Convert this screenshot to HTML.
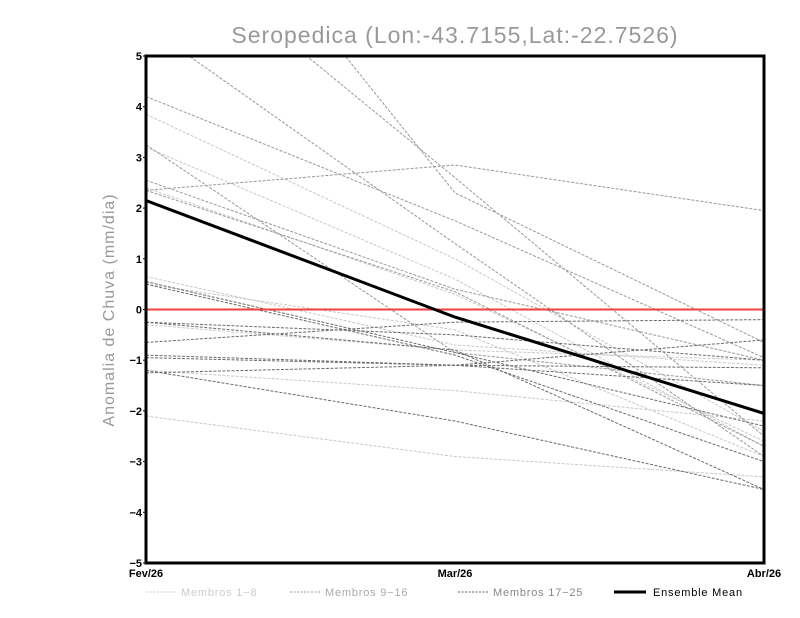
<!DOCTYPE html>
<html><head><meta charset="utf-8"><style>
html,body{margin:0;padding:0;background:#fff;}
svg{display:block;font-family:"Liberation Sans",sans-serif;}
</style></head><body>
<svg id="chart" width="800" height="618" viewBox="0 0 800 618">
<text x="455" y="43" text-anchor="middle" font-size="23" fill="#999" letter-spacing="1">Seropedica (Lon:-43.7155,Lat:-22.7526)</text>
<text transform="translate(114,310) rotate(-90)" text-anchor="middle" font-size="16" fill="#999" letter-spacing="1">Anomalia de Chuva (mm/dia)</text>
<defs><clipPath id="pc"><rect x="146" y="56" width="618" height="507"/></clipPath></defs>
<g id="members" clip-path="url(#pc)"></g>
<line id="zero" stroke="#f04040" stroke-width="2"/>
<polyline id="mean" fill="none" stroke="#000" stroke-width="3" clip-path="url(#pc)"/>
<rect x="146" y="56" width="618" height="507" fill="none" stroke="#000" stroke-width="3"/>
<g id="yticks"></g>
<g id="xticks"></g>
<g font-size="11">
<line x1="146" y1="592" x2="176" y2="592" stroke="#ccc" stroke-dasharray="2,1.5"/>
<text x="181" y="596" fill="#ccc" letter-spacing="0.8">Membros 1−8</text>
<line x1="290" y1="592" x2="320" y2="592" stroke="#999" stroke-dasharray="2,1.5"/>
<text x="325" y="596" fill="#aaa" letter-spacing="0.8">Membros 9−16</text>
<line x1="458" y1="592" x2="488" y2="592" stroke="#666" stroke-dasharray="2,1.5"/>
<text x="493" y="596" fill="#888" letter-spacing="0.8">Membros 17−25</text>
<line x1="614" y1="592" x2="646" y2="592" stroke="#000" stroke-width="3"/>
<text x="653" y="596" fill="#000" letter-spacing="0.8">Ensemble Mean</text>
</g>
</svg>
<script>
const categories = ["Fev/26","Mar/26","Abr/26"];
const yTicks = [-5,-4,-3,-2,-1,0,1,2,3,4,5];
const meanValues = [2.15,-0.15,-2.05];
const m01=[3.85,1.0,-2.4], m02=[3.2,0.6,-2.7], m03=[0.65,-0.7,-1.1], m04=[-2.1,-2.9,-3.3];
const m05=[-1.2,-1.6,-2.2], m06=[2.4,0.3,-2.6], m07=[-0.3,-0.8,-1.0], m08=[0.5,-0.4,-2.9];
const m09=[5.6,1.3,-2.9], m10=[7.6,2.6,-2.5], m11=[9.9,2.3,-0.65], m12=[2.35,2.85,1.95];
const m13=[3.25,-0.85,-1.5], m14=[4.2,1.75,-0.95], m15=[2.55,0.4,-1.0], m16=[2.35,0.35,-2.7];
const m17=[0.55,-0.85,-2.3], m18=[-0.65,-0.25,-0.2], m19=[-0.25,-0.8,-3.55], m20=[-0.9,-1.1,-1.15];
const m21=[-0.95,-1.1,-1.5], m22=[-1.2,-2.2,-3.55], m23=[-1.25,-1.1,-0.6], m24=[0.5,-0.9,-3.0], m25=[-0.25,-0.5,-1.0];
const members=[m01,m02,m03,m04,m05,m06,m07,m08,m09,m10,m11,m12,m13,m14,m15,m16,m17,m18,m19,m20,m21,m22,m23,m24,m25];
const NS="http://www.w3.org/2000/svg";
const X0=146,X1=764,Y0=563,Y1=56;
const xs=i=>X0+(X1-X0)*i/(categories.length-1);
const ys=v=>Y0-(v+5)/10*(Y0-Y1);
const g=document.getElementById('members');
members.forEach((m,k)=>{
  const p=document.createElementNS(NS,'polyline');
  
  
  p.setAttribute('points',m.map((v,i)=>xs(i)+','+ys(v)).join(' '));
  p.setAttribute('fill','none');
  p.setAttribute('stroke',k<8?'#c8c8c8':(k<16?'#999':'#6a6a6a'));
  p.setAttribute('stroke-width','1');
  p.setAttribute('stroke-dasharray','3,1.5');
  g.appendChild(p);
});
const z=document.getElementById('zero');
z.setAttribute('x1',X0);z.setAttribute('x2',X1);z.setAttribute('y1',ys(0));z.setAttribute('y2',ys(0));
document.getElementById('mean').setAttribute('points',meanValues.map((v,i)=>xs(i)+','+ys(v)).join(' '));
const yt=document.getElementById('yticks');
yTicks.forEach(v=>{
  const t=document.createElementNS(NS,'text');
  
  
  t.setAttribute('x',X0-4);t.setAttribute('y',ys(v)+4);
  t.setAttribute('text-anchor','end');t.setAttribute('font-size','11');t.setAttribute('font-weight','bold');
  t.textContent=v<0?'−'+(-v):String(v);
  yt.appendChild(t);
  const l=document.createElementNS(NS,'line');
  
  
  l.setAttribute('x1',X0-3);l.setAttribute('x2',X0);l.setAttribute('y1',ys(v));l.setAttribute('y2',ys(v));l.setAttribute('stroke','#000');
  yt.appendChild(l);
});
const xt=document.getElementById('xticks');
categories.forEach((c,i)=>{
  const t=document.createElementNS(NS,'text');
  
  
  t.setAttribute('x',xs(i));t.setAttribute('y',577);
  t.setAttribute('text-anchor','middle');
  t.setAttribute('font-size','11');t.setAttribute('font-weight','bold');
  t.textContent=c;
  xt.appendChild(t);
});
</script>
</body></html>
